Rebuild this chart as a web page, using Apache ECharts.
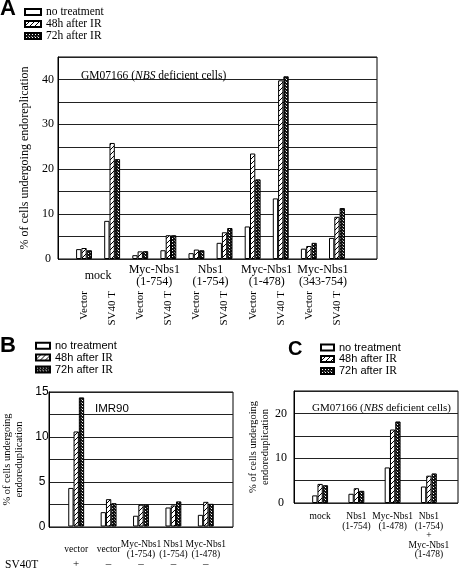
<!DOCTYPE html>
<html><head><meta charset="utf-8">
<script src="https://cdn.jsdelivr.net/npm/echarts@6/dist/echarts.min.js"></script>
<style>html,body{margin:0;padding:0;background:#fff}#c{width:459px;height:570px}</style>
</head><body><div id="c"></div>
<script>
// ---------- data ----------
const legendNames = ['no treatment', '48h after IR', '72h after IR'];

const aGroups = ['mock', 'Myc-Nbs1\n(1-754)', 'Nbs1\n(1-754)', 'Myc-Nbs1\n(1-478)', 'Myc-Nbs1\n(343-754)'];
const aCats = ['Vector', 'SV40 T', 'Vector', 'SV40 T', 'Vector', 'SV40 T', 'Vector', 'SV40 T', 'Vector', 'SV40 T'];
const aNoTreat = [2.2, 8.5, 0.85, 1.95, 1.3, 3.6, 7.25, 13.5, 2.3, 4.7];
const a48h     = [2.45, 25.85, 1.7, 5.3, 2.1, 5.95, 23.5, 39.8, 2.9, 9.4];
const a72h     = [1.95, 22.25, 1.75, 5.3, 1.95, 6.9, 17.75, 40.7, 3.6, 11.35];
const aTicks = [0, 10, 20, 30, 40];
const aTitle = 'GM07166 ({i|NBS} deficient cells)';

const bCats = ['vector', 'vector', 'Myc-Nbs1\n(1-754)', 'Nbs1\n(1-754)', 'Myc-Nbs1\n(1-478)'];
const bSV40T = ['+', '–', '–', '–', '–'];
const bNoTreat = [4.3, 1.6, 1.2, 2.12, 1.3];
const b48h     = [10.6, 3.05, 2.43, 2.35, 2.75];
const b72h     = [14.4, 2.6, 2.43, 2.8, 2.53];
const bTicks = [0, 5, 10, 15];
const bTitle = 'IMR90';

const cCats = ['mock', 'Nbs1\n(1-754)', 'Myc-Nbs1\n(1-478)', 'Nbs1\n(1-754)\n+\nMyc-Nbs1\n(1-478)'];
const cNoTreat = [1.7, 2.06, 7.94, 3.68];
const c48h     = [4.26, 3.3, 16.4, 6.1];
const c72h     = [3.97, 2.72, 18.2, 6.6];
const cTicks = [0, 10, 20];
const cTitle = 'GM07166 ({i|NBS} deficient cells)';

// ---------- styles ----------
const SERIF = "'Liberation Serif', 'DejaVu Serif', serif";
const SANS = "'Liberation Sans', Arial, sans-serif";

function tile(w, h, draw) {
  const c = document.createElement('canvas'); c.width = w; c.height = h;
  const g = c.getContext('2d'); draw(g); return c;
}
const hatchImg = tile(5, 5, g => {
  g.fillStyle = '#fff'; g.fillRect(0, 0, 5, 5);
  g.fillStyle = '#000';
  for (let x = 0; x < 5; x++) { const y = 4 - x; g.fillRect(x, y, 1, 1); }
});
const darkImg = tile(3, 3, g => {
  g.fillStyle = '#111'; g.fillRect(0, 0, 3, 3);
  g.fillStyle = '#fff'; g.fillRect(1, 1, 1, 1);
  g.fillStyle = '#888'; g.fillRect(0, 0, 1, 1);
});
const fills = ['#fff', { image: hatchImg, repeat: 'repeat' }, { image: darkImg, repeat: 'repeat' }];

const BAR_W = 5.3;

// ---------- layout ----------
const grids = [
  { left: 58, top: 57, width: 319, height: 202, show: true, borderColor: '#000', borderWidth: 1 }, // A frame
  { left: 70, top: 57, width: 281, height: 202 },                                                 // A bars
  { left: 48, top: 392, width: 185, height: 135, show: true, borderColor: '#000', borderWidth: 1 }, // B frame
  { left: 60, top: 392, width: 162, height: 135 },                                                // B bars
  { left: 294, top: 391, width: 164, height: 112, show: true, borderColor: '#000', borderWidth: 1 }, // C frame
  { left: 302, top: 391, width: 145, height: 112 }                                                // C bars
];

function hiddenX(gi) {
  return { gridIndex: gi, type: 'category', data: [''], show: false };
}
function frameY(gi, max, interval, ticks, font, size, margin, name, nameGap, nameSize) {
  return {
    gridIndex: gi, type: 'value', min: 0, max: max, interval: interval,
    axisLine: { show: true, lineStyle: { color: '#000', width: 1 } },
    axisTick: { show: false },
    splitLine: { show: true, lineStyle: { color: '#222', width: 1 } },
    axisLabel: {
      color: '#000', fontFamily: font, fontSize: size, margin: margin, align: 'center',
      formatter: v => ticks.indexOf(v) >= 0 ? String(v) : ''
    },
    name: name, nameLocation: 'middle', nameGap: nameGap,
    nameTextStyle: { color: '#000', fontFamily: SERIF, fontSize: nameSize, lineHeight: nameSize + 1.5 }
  };
}
function hiddenY(gi, max) {
  return { gridIndex: gi, type: 'value', min: 0, max: max, show: false, splitLine: { show: false } };
}
function catX(gi, data, label) {
  return {
    gridIndex: gi, type: 'category', data: data, position: 'bottom', offset: 0,
    axisLine: { show: false }, axisTick: { show: false }, splitLine: { show: false },
    axisLabel: Object.assign({ interval: 0, color: '#000', fontFamily: SERIF }, label)
  };
}

const xAxes = [
  hiddenX(0),
  catX(1, aCats, { rotate: 90, margin: 32, fontSize: 11 }),
  catX(1, aGroups, { margin: 17, fontSize: 12, lineHeight: 12.5, verticalAlign: 'middle' }),
  hiddenX(2),
  catX(3, bCats, { margin: 23, fontSize: 9.5, lineHeight: 9.5, verticalAlign: 'middle' }),
  catX(3, bSV40T, { margin: 38, fontSize: 11, verticalAlign: 'middle' }),
  hiddenX(4),
  catX(5, cCats, { margin: 9, fontSize: 9.5, lineHeight: 9.5, verticalAlign: 'top' })
];
const yAxes = [
  frameY(0, 45, 5, aTicks, SERIF, 12, 10, '% of cells undergoing endoreplication', 26, 12),
  hiddenY(1, 45),
  frameY(2, 15, 2.5, bTicks, SANS, 12, 7, '% of cells undergoing\nendoreduplication', 24, 10.5),
  hiddenY(3, 15),
  frameY(4, 25, 5, cTicks, SERIF, 12, 13, '% of cells undergoing\nendoreduplication', 20, 10.5),
  hiddenY(5, 25)
];

function bars(vals, k, xi, yi) {
  return {
    type: 'bar', name: legendNames[k], data: vals, xAxisIndex: xi, yAxisIndex: yi,
    barWidth: BAR_W, barGap: '0%',
    itemStyle: { color: fills[k], borderColor: '#000', borderWidth: 1 }
  };
}
const series = [
  bars(aNoTreat, 0, 1, 1), bars(a48h, 1, 1, 1), bars(a72h, 2, 1, 1),
  bars(bNoTreat, 0, 4, 3), bars(b48h, 1, 4, 3), bars(b72h, 2, 4, 3),
  bars(cNoTreat, 0, 7, 5), bars(c48h, 1, 7, 5), bars(c72h, 2, 7, 5)
];

function legend(left, top, w, font, size, lh, rich) {
  const l = {
    data: legendNames, orient: 'vertical', left: left, top: top, padding: 0,
    itemWidth: w, itemHeight: 6, itemGap: 0, icon: 'rect', selectedMode: false,
    textStyle: { color: '#000', fontFamily: font, fontSize: size, lineHeight: lh }
  };
  if (rich) {
    l.formatter = n => n.replace(' IR', ' {s|IR}');
    l.textStyle.rich = { s: { fontFamily: SERIF, fontSize: size + 0.5, color: '#000', lineHeight: lh } };
  }
  return l;
}

function label(text, left, top, font, size, weight, extra) {
  return {
    text: text, left: left, top: top, padding: 0,
    textStyle: Object.assign({ color: '#000', fontFamily: font, fontSize: size, fontWeight: weight || 'normal',
      rich: { i: { fontStyle: 'italic', fontFamily: font, fontSize: size, color: '#000' } } }, extra || {})
  };
}

const option = {
  animation: false,
  backgroundColor: '#fff',
  grid: grids,
  xAxis: xAxes,
  yAxis: yAxes,
  legend: [
    legend(24, 6, 16, SERIF, 11.5, 11.5, false),
    legend(35, 340, 14, SANS, 11, 11.5, true),
    legend(320, 342, 13, SANS, 11, 11, true)
  ],
  title: [
    label('A', 0, -2, SANS, 22, 'bold'),
    label('B', 0, 335, SANS, 22, 'bold'),
    label('C', 288, 339, SANS, 20, 'bold'),
    label(aTitle, 81, 70, SERIF, 11.5),
    label(bTitle, 95, 403, SANS, 11.5),
    label(cTitle, 312, 403, SERIF, 11),
    label('SV40T', 5, 559, SERIF, 11.5)
  ],
  series: series
};
const chart = echarts.init(document.getElementById('c'), null, { renderer: 'canvas' });
chart.setOption(option);
</script>
</body></html>
